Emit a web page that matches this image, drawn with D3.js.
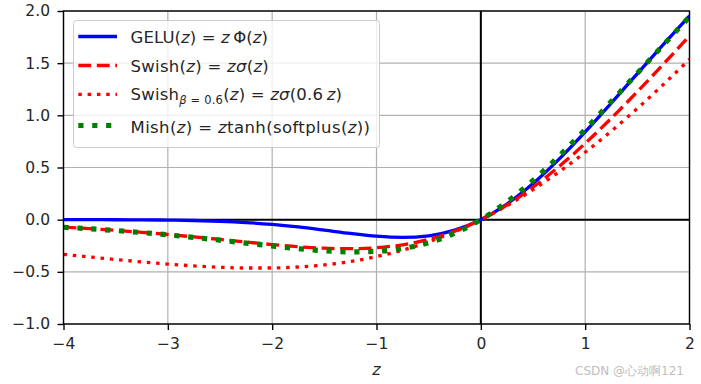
<!DOCTYPE html>
<html><head><meta charset="utf-8">
<script src="https://cdn.jsdelivr.net/npm/d3@7"></script>
<style>
body{margin:0;background:#fff;}
text{font-family:"DejaVu Sans",sans-serif;}
</style></head>
<body><svg id="chart" width="701" height="384"></svg>
<script>
const zValues = [-4,-3.75,-3.5,-3.25,-3,-2.75,-2.5,-2.25,-2,-1.75,-1.5,-1.25,-1,-0.75,-0.5,-0.25,0,0.25,0.5,0.75,1,1.25,1.5,1.75,2];
const gelu = [-0.0001,-0.0003,-0.0008,-0.0019,-0.0040,-0.0082,-0.0155,-0.0275,-0.0455,-0.0701,-0.1002,-0.1321,-0.1587,-0.1700,-0.1543,-0.1003,0,0.1497,0.3457,0.5800,0.8413,1.1179,1.3998,1.6799,1.9545];
const swish = [-0.0719,-0.0862,-0.1026,-0.1213,-0.1423,-0.1652,-0.1896,-0.2145,-0.2384,-0.2591,-0.2736,-0.2784,-0.2689,-0.2406,-0.1888,-0.1095,0,0.1405,0.3112,0.5094,0.7311,0.9716,1.2264,1.4909,1.7616];
const swish06 = [-0.3327,-0.3575,-0.3818,-0.4048,-0.4256,-0.4431,-0.4561,-0.4632,-0.4630,-0.4537,-0.4336,-0.4010,-0.3543,-0.2920,-0.2128,-0.1156,0,0.1344,0.2872,0.4580,0.6457,0.8490,1.0664,1.2963,1.5370];
const mish = [-0.0726,-0.0872,-0.1041,-0.1236,-0.1456,-0.1702,-0.1968,-0.2247,-0.2525,-0.2780,-0.2981,-0.3084,-0.3034,-0.2765,-0.2207,-0.1299,0,0.1696,0.3752,0.6100,0.8651,1.1319,1.4034,1.6749,1.9440];
const xTicks = [-4,-3,-2,-1,0,1,2];
const yTicks = [-1.0,-0.5,0.0,0.5,1.0,1.5,2.0];

const svg = d3.select("#chart");
const L=63.5, R=689.5, T=11, B=324;
const x = d3.scaleLinear().domain([-4,2]).range([L,R]);
const y = d3.scaleLinear().domain([-1,2]).range([B,T]);

// grid
const g = svg.append("g");
g.selectAll(".gx").data(xTicks).enter().append("line")
 .attr("x1",d=>x(d)).attr("x2",d=>x(d)).attr("y1",T).attr("y2",B)
 .attr("stroke","#b0b0b0").attr("stroke-width",1.2);
g.selectAll(".gy").data(yTicks).enter().append("line")
 .attr("y1",d=>y(d)).attr("y2",d=>y(d)).attr("x1",L).attr("x2",R)
 .attr("stroke","#b0b0b0").attr("stroke-width",1.2);

// axes
const fs = 15.5;
const xAxis = d3.axisBottom(x).tickValues(xTicks).tickSize(6).tickPadding(8)
  .tickFormat(d=>d3.format("d")(d).replace("-","\u2212"));
const yAxis = d3.axisLeft(y).tickValues(yTicks).tickSize(6).tickPadding(7.5)
  .tickFormat(d=>d3.format(".1f")(d).replace("-","\u2212"));
const gx = svg.append("g").attr("transform",`translate(0,${B})`).call(xAxis);
const gy = svg.append("g").attr("transform",`translate(${L},0)`).call(yAxis);
[gx,gy].forEach(a=>{
  a.select(".domain").remove();
  a.selectAll("line").attr("stroke","#000").attr("stroke-width",1.4);
  a.selectAll("text").attr("font-family","DejaVu Sans").attr("font-size",fs).attr("fill","#262626");
});

// zero lines
svg.append("line").attr("x1",L).attr("x2",R).attr("y1",y(0)).attr("y2",y(0)).attr("stroke","#000").attr("stroke-width",2);
svg.append("line").attr("x1",x(0)).attr("x2",x(0)).attr("y1",T).attr("y2",B).attr("stroke","#000").attr("stroke-width",2);

// clip
svg.append("clipPath").attr("id","clip").append("rect").attr("x",L).attr("y",T).attr("width",R-L).attr("height",B-T);

const series = [
  {name:"gelu", vals:gelu, color:"#0000ff", w:3.3, dash:null},
  {name:"swish", vals:swish, color:"#ff0000", w:3.3, dash:"12.9,5.6"},
  {name:"swish06", vals:swish06, color:"#ff0000", w:3.3, dash:"3.5,5.8"},
  {name:"mish", vals:mish, color:"#008000", w:5.2, dash:"5.2,8.7"}
];
const line = d3.line().x(d=>x(d[0])).y(d=>y(d[1])).curve(d3.curveMonotoneX);
const pg = svg.append("g").attr("clip-path","url(#clip)");
series.forEach(s=>{
  pg.append("path").datum(zValues.map((z,i)=>[z,s.vals[i]]))
    .attr("d",line).attr("fill","none").attr("stroke",s.color)
    .attr("stroke-width",s.w).attr("stroke-dasharray",s.dash);
});

// spines
svg.append("rect").attr("x",L).attr("y",T).attr("width",R-L).attr("height",B-T)
  .attr("fill","none").attr("stroke","#000").attr("stroke-width",1.4);

// legend
const lfs = 16.5;
const lg = svg.append("g");
lg.append("rect").attr("x",73.5).attr("y",20.5).attr("width",306).attr("height",127).attr("rx",3)
  .attr("fill","#fff").attr("fill-opacity",0.8).attr("stroke","#cccccc").attr("stroke-width",1);
const legRows = [
  {ly:36.5, ty:43.4, w:137.5, parts:[["GELU(",""],["z","i"],[") = ",""],["z","i"],["\u2009\u03A6(",""],["z","i"],[")",""]]},
  {ly:65.5, ty:71.8, w:138.3, parts:[["Swish(",""],["z","i"],[") = ",""],["z","i"],["\u03C3","i"],["(",""],["z","i"],[")",""]]},
  {ly:94.3, ty:100.2, w:211.5, parts:[["Swish",""],["\u03B2","si"],[" = 0.6","s"],["(",""],["z","i"],[") = ",""],["z","i"],["\u03C3","i"],["(0.6\u2009",""],["z","i"],[")",""]]},
  {ly:125.5, ty:133.2, w:239.5, parts:[["Mish(",""],["z","i"],[") = ",""],["z","i"],["tanh(softplus(",""],["z","i"],["))",""]]}
];
legRows.forEach((r,i)=>{
  const s = series[i];
  lg.append("line").attr("x1",78.3).attr("x2",117).attr("y1",r.ly).attr("y2",r.ly)
    .attr("stroke",s.color).attr("stroke-width",s.w).attr("stroke-dasharray",s.dash);
  const t = lg.append("text").attr("x",130.5).attr("y",r.ty).attr("font-size",lfs).attr("fill","#262626")
    .attr("textLength",r.w).attr("lengthAdjust","spacing");
  let inSub = false;
  r.parts.forEach(p=>{
    const ts = t.append("tspan").text(p[0]);
    const isSub = p[1].includes("s");
    if(p[1].includes("i")) ts.attr("font-style","italic");
    if(isSub) ts.attr("font-size",11.5);
    if(isSub && !inSub) ts.attr("dy",4);
    if(!isSub && inSub) ts.attr("dy",-4);
    inSub = isSub;
  });
});

// x label
svg.append("text").attr("x",(L+R)/2).attr("y",375).attr("text-anchor","middle")
  .attr("font-size",16).attr("font-style","italic").attr("fill","#262626").text("z");

// watermark
svg.append("text").attr("x",684).attr("y",375).attr("text-anchor","end")
  .attr("font-size",12).attr("fill","#c0c0c0").text("CSDN @心动啊121");
</script></body></html>
